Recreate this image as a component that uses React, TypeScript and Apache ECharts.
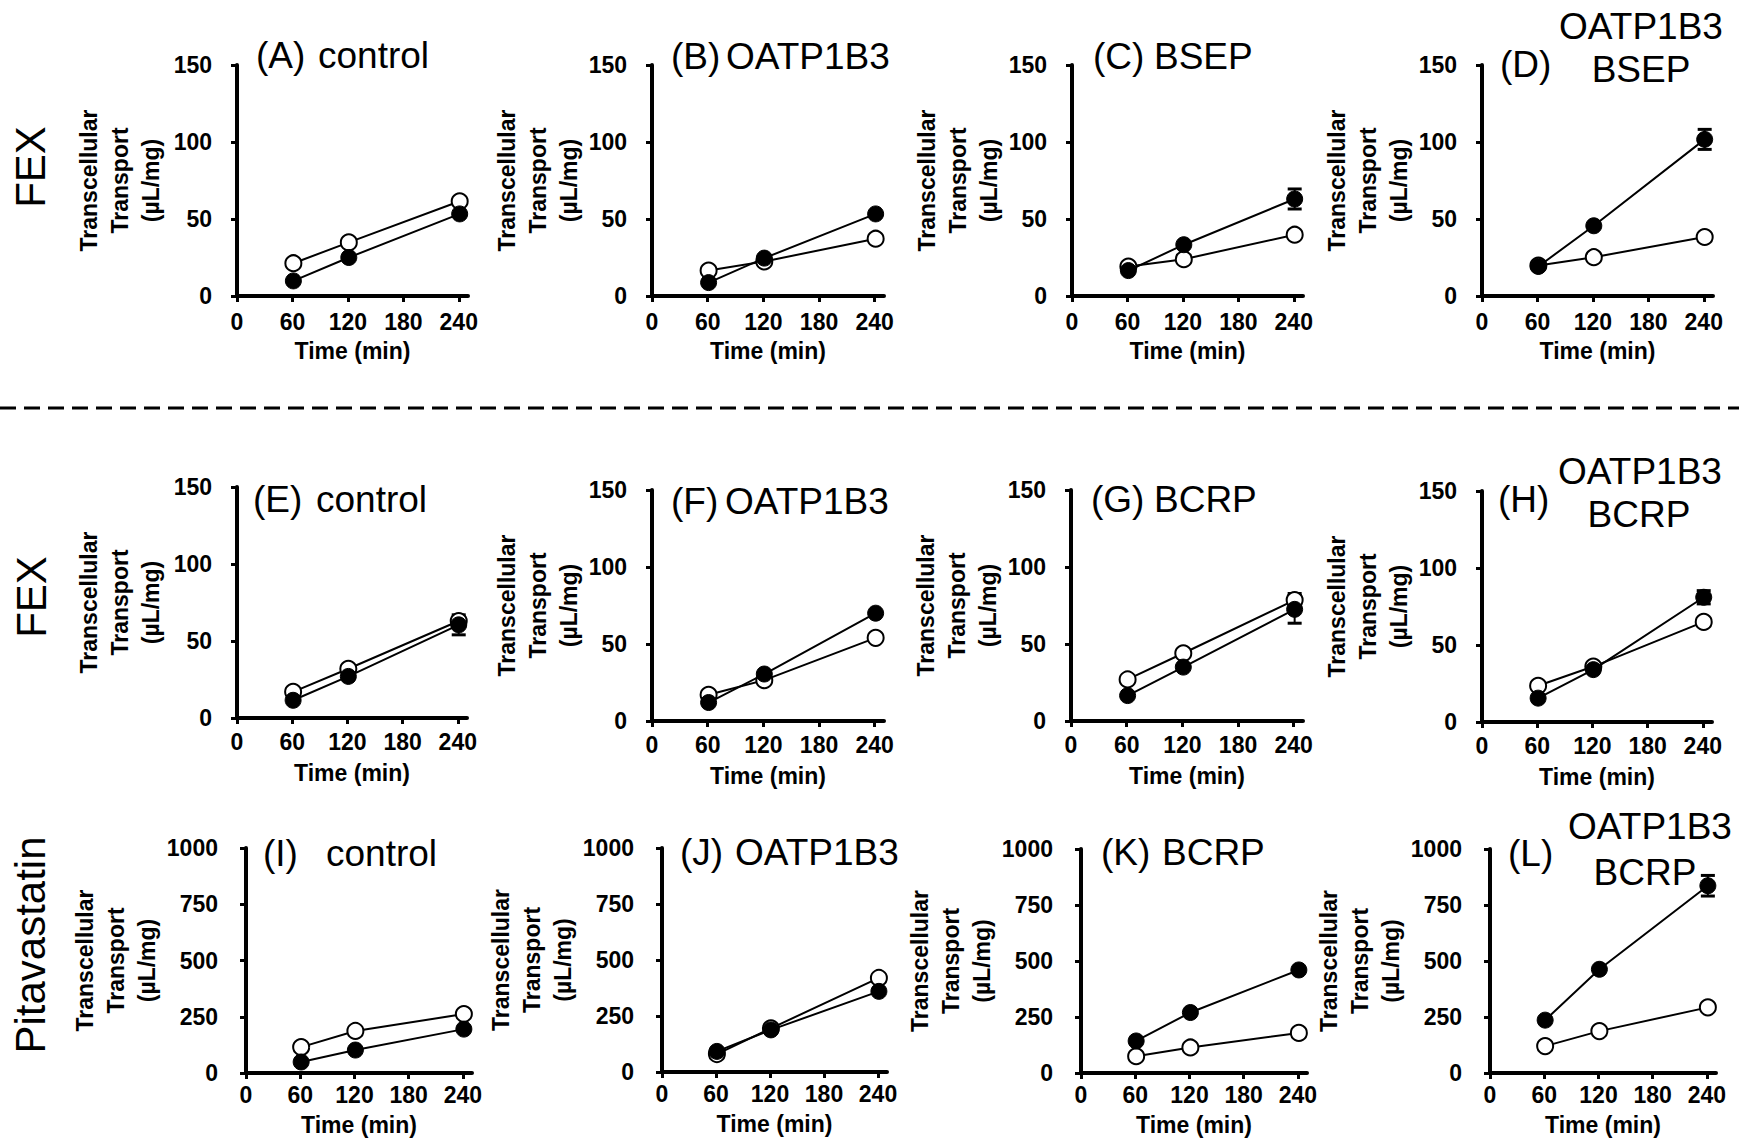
import React, { useEffect, useRef } from 'react';
import * as echarts from 'echarts';

const FONT = '"Liberation Sans", Arial, Helvetica, sans-serif';

// ---------- data ----------
const times = [61, 121, 241];
const xTicks = [0, 60, 120, 180, 240];
const fexTicks = [0, 50, 100, 150];
const pitaTicks = [0, 250, 500, 750, 1000];

const openA = [21.3, 34.8, 61.5];
const filledA = [9.8, 25, 53.3];
const openB = [16.5, 22.4, 37.2];
const filledB = [8.7, 24.6, 53.3];
const openC = [19.1, 23.9, 39.8];
const filledC = [16.5, 33.3, 63];
const filledErrC = [0, 0, 6.5];
const openD = [19.8, 25.2, 38.3];
const filledD = [19.2, 45.6, 101.7];
const filledErrD = [0, 0, 6.5];
const openE = [17, 32, 63];
const filledE = [11.5, 27, 60.5];
const openErrE = [0, 0, 2.5];
const filledErrE = [0, 0, 6.5];
const openF = [17, 26.5, 54];
const filledF = [12, 30.5, 70];
const openG = [27, 44, 78.5];
const filledG = [16.5, 35, 72.5];
const openErrG = [0, 0, 4.3];
const filledErrG = [0, 0, 9];
const openH = [23.5, 36, 65];
const filledH = [15.5, 34, 81];
const filledErrH = [0, 0, 4.3];
const openI = [115, 187, 262];
const filledI = [49, 102, 195];
const openJ = [80, 195, 420];
const filledJ = [92, 188, 360];
const openK = [75, 114, 179];
const filledK = [143, 270, 460];
const openL = [120, 187, 293];
const filledL = [236, 463, 836];
const filledErrL = [0, 0, 46];

const panelLetters = ['(A)', '(B)', '(C)', '(D)', '(E)', '(F)', '(G)', '(H)', '(I)', '(J)', '(K)', '(L)'];
const panelNames = [
  ['control'], ['OATP1B3'], ['BSEP'], ['OATP1B3', 'BSEP'],
  ['control'], ['OATP1B3'], ['BCRP'], ['OATP1B3', 'BCRP'],
  ['control'], ['OATP1B3'], ['BCRP'], ['OATP1B3', 'BCRP'],
];
const rowLabels = ['FEX', 'FEX', 'Pitavastatin'];

const openSeries = [openA, openB, openC, openD, openE, openF, openG, openH, openI, openJ, openK, openL];
const filledSeries = [filledA, filledB, filledC, filledD, filledE, filledF, filledG, filledH, filledI, filledJ, filledK, filledL];
const openErrs = [null, null, null, null, openErrE, null, openErrG, null, null, null, null, null];
const filledErrs = [null, null, filledErrC, filledErrD, filledErrE, null, filledErrG, filledErrH, null, null, null, filledErrL];

// ---------- layout (pixels) ----------
const layouts = [
  { left: 237, top: 65, w: 231, h: 231, yGap: 72 },
  { left: 652, top: 65, w: 232, h: 231, yGap: 65 },
  { left: 1072, top: 65, w: 231, h: 231, yGap: 62 },
  { left: 1482, top: 65, w: 231, h: 231, yGap: 62 },
  { left: 237, top: 487, w: 230, h: 231, yGap: 72 },
  { left: 652, top: 490, w: 232, h: 231, yGap: 65 },
  { left: 1071, top: 490, w: 232, h: 231, yGap: 59 },
  { left: 1482, top: 491, w: 230, h: 231, yGap: 62 },
  { left: 246, top: 848, w: 226, h: 225, yGap: 81 },
  { left: 662, top: 848, w: 225, h: 224, yGap: 75 },
  { left: 1081, top: 849, w: 226, h: 224, yGap: 69 },
  { left: 1490, top: 849, w: 226, h: 224, yGap: 70 },
];
const rowStyle = [
  { xLabelMargin: 14, xNameGap: 43, yLabelMargin: 25 },
  { xLabelMargin: 12, xNameGap: 43, yLabelMargin: 25 },
  { xLabelMargin: 10, xNameGap: 40, yLabelMargin: 28 },
];
// title positions: letter [x, y], names [x, y, align]
const titlePos = [
  { lx: 256, ly: 55, names: [[318, 55, 'left']] },
  { lx: 671, ly: 56, names: [[726, 56, 'left']] },
  { lx: 1093, ly: 56, names: [[1154, 56, 'left']] },
  { lx: 1500, ly: 64, names: [[1641, 26, 'center'], [1641, 69, 'center']] },
  { lx: 253, ly: 499, names: [[316, 499, 'left']] },
  { lx: 671, ly: 501, names: [[725, 501, 'left']] },
  { lx: 1091, ly: 499, names: [[1154, 499, 'left']] },
  { lx: 1498, ly: 499, names: [[1640, 471, 'center'], [1639, 514, 'center']] },
  { lx: 263, ly: 853, names: [[326, 853, 'left']] },
  { lx: 680, ly: 852, names: [[735, 852, 'left']] },
  { lx: 1101, ly: 852, names: [[1162, 852, 'left']] },
  { lx: 1508, ly: 853, names: [[1650, 826, 'center'], [1645, 872, 'center']] },
];
const rowLabelPos = [
  [30, 167],
  [31, 597],
  [30, 945],
];

function textEl(x: number, y: number, text: string, size: number, align: string, rotation = 0) {
  return {
    type: 'text',
    x,
    y,
    rotation,
    silent: true,
    style: {
      text,
      fontSize: size,
      fontFamily: FONT,
      fontWeight: 'normal',
      fill: '#000',
      align,
      textAlign: align,
      verticalAlign: 'middle',
      textVerticalAlign: 'middle',
    },
  };
}

function buildOption() {
  const grid: any[] = [];
  const xAxis: any[] = [];
  const yAxis: any[] = [];
  const series: any[] = [];
  const graphic: any[] = [];

  layouts.forEach((l, i) => {
    const row = Math.floor(i / 4);
    const rs = rowStyle[row];
    const isPita = row === 2;
    const yTicks = isPita ? pitaTicks : fexTicks;
    grid.push({ left: l.left, top: l.top, width: l.w, height: l.h, containLabel: false, outerBoundsMode: 'none' });
    xAxis.push({
      gridIndex: i,
      type: 'value',
      min: 0,
      max: 250,
      interval: 60,
      name: 'Time (min)',
      nameLocation: 'middle',
      nameGap: rs.xNameGap,
      nameTextStyle: { fontFamily: FONT, fontSize: 23, fontWeight: 'bold', color: '#000' },
      axisLine: { show: true, onZero: false, lineStyle: { color: '#000', width: 4 } },
      axisTick: { show: true, inside: false, length: 6, customValues: xTicks, lineStyle: { color: '#000', width: 3 } },
      axisLabel: {
        show: true,
        customValues: xTicks,
        margin: rs.xLabelMargin,
        fontFamily: FONT,
        fontSize: 23,
        fontWeight: 'bold',
        color: '#000',
        formatter: (v: number) => String(v),
      },
      splitLine: { show: false },
    });
    yAxis.push({
      gridIndex: i,
      type: 'value',
      min: 0,
      max: yTicks[yTicks.length - 1],
      interval: yTicks[1] - yTicks[0],
      name: 'Transcellular\nTransport\n(µL/mg)',
      nameLocation: 'middle',
      nameRotate: 90,
      nameGap: l.yGap - 1,
      nameTextStyle: { fontFamily: FONT, fontSize: 23, fontWeight: 'bold', color: '#000', lineHeight: 31 },
      axisLine: { show: true, onZero: false, lineStyle: { color: '#000', width: 4 } },
      axisTick: { show: true, inside: false, length: 6, lineStyle: { color: '#000', width: 3 } },
      axisLabel: {
        show: true,
        margin: rs.yLabelMargin,
        fontFamily: FONT,
        fontSize: 23,
        fontWeight: 'bold',
        color: '#000',
        formatter: (v: number) => String(v),
      },
      splitLine: { show: false },
    });

    const errData: any[] = [];
    const oe = openErrs[i];
    const fe = filledErrs[i];
    times.forEach((t, k) => {
      if (oe && oe[k] > 0) errData.push([t, openSeries[i][k] - oe[k], openSeries[i][k] + oe[k]]);
      if (fe && fe[k] > 0) errData.push([t, filledSeries[i][k] - fe[k], filledSeries[i][k] + fe[k]]);
    });
    if (errData.length) {
      series.push({
        type: 'custom',
        xAxisIndex: i,
        yAxisIndex: i,
        z: 2,
        silent: true,
        clip: false,
        encode: { x: 0, y: [1, 2] },
        data: errData,
        renderItem: (params: any, api: any) => {
          const x = api.value(0);
          const lo = api.coord([x, api.value(1)]);
          const hi = api.coord([x, api.value(2)]);
          const half = 7;
          return {
            type: 'group',
            children: [
              { type: 'line', shape: { x1: lo[0], y1: lo[1], x2: hi[0], y2: hi[1] }, style: { stroke: '#000', lineWidth: 2 } },
              { type: 'line', shape: { x1: hi[0] - half, y1: hi[1], x2: hi[0] + half, y2: hi[1] }, style: { stroke: '#000', lineWidth: 3 } },
              { type: 'line', shape: { x1: lo[0] - half, y1: lo[1], x2: lo[0] + half, y2: lo[1] }, style: { stroke: '#000', lineWidth: 3 } },
            ],
          };
        },
      });
    }
    series.push({
      type: 'line',
      name: 'open',
      xAxisIndex: i,
      yAxisIndex: i,
      z: 3,
      silent: true,
      clip: false,
      data: times.map((t, k) => [t, openSeries[i][k]]),
      symbol: 'circle',
      symbolSize: 16,
      showSymbol: true,
      itemStyle: { color: '#fff', borderColor: '#000', borderWidth: 2 },
      lineStyle: { color: '#000', width: 2 },
      emphasis: { disabled: true },
    });
    series.push({
      type: 'line',
      name: 'filled',
      xAxisIndex: i,
      yAxisIndex: i,
      z: 4,
      silent: true,
      clip: false,
      data: times.map((t, k) => [t, filledSeries[i][k]]),
      symbol: 'circle',
      symbolSize: 16,
      showSymbol: true,
      itemStyle: { color: '#000', borderColor: '#000', borderWidth: 1 },
      lineStyle: { color: '#000', width: 2 },
      emphasis: { disabled: true },
    });

    const tp = titlePos[i];
    graphic.push(textEl(tp.lx, tp.ly, panelLetters[i], 37, 'left'));
    panelNames[i].forEach((n, j) => {
      const p = tp.names[j];
      graphic.push(textEl(p[0] as number, p[1] as number, n, 37, p[2] as string));
    });
  });

  rowLabels.forEach((r, k) => {
    graphic.push(textEl(rowLabelPos[k][0], rowLabelPos[k][1], r, 42, 'center', Math.PI / 2));
  });

  graphic.push({
    type: 'line',
    silent: true,
    shape: { x1: 0, y1: 408, x2: 1739, y2: 408 },
    style: { stroke: '#000', lineWidth: 3, lineDash: [16, 8] },
  });

  return {
    animation: false,
    backgroundColor: '#fff',
    tooltip: { show: false },
    grid,
    xAxis,
    yAxis,
    series,
    graphic,
  };
}

export default function App() {
  const ref = useRef<HTMLDivElement>(null);
  useEffect(() => {
    document.documentElement.style.margin = '0';
    document.documentElement.style.padding = '0';
    document.body.style.margin = '0';
    document.body.style.padding = '0';
    document.body.style.overflow = 'hidden';
    if (!ref.current) return;
    const chart = echarts.init(ref.current, null, { renderer: 'svg', width: 1739, height: 1138 });
    chart.setOption(buildOption() as any);
    return () => chart.dispose();
  }, []);
  return (
    <div
      ref={ref}
      style={{ position: 'relative', margin: 0, width: '1739px', height: '1138px', background: '#fff' }}
    />
  );
}
